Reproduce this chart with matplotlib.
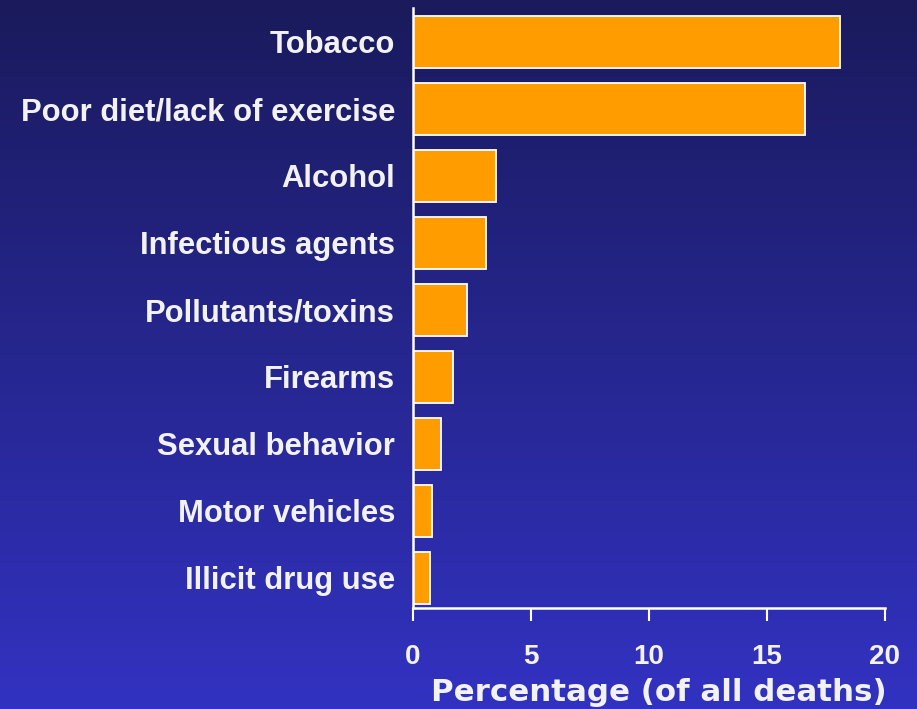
import numpy as np
import matplotlib
matplotlib.use('Agg')
import matplotlib.pyplot as plt

causes = ['Tobacco', 'Poor diet/lack of exercise', 'Alcohol', 'Infectious agents',
          'Pollutants/toxins', 'Firearms', 'Sexual behavior', 'Motor vehicles',
          'Illicit drug use']
percent = [18.1, 16.6, 3.5, 3.1, 2.3, 1.7, 1.2, 0.8, 0.7]
x_ticks = [0, 5, 10, 15, 20]

BAR_COLOR = '#ff9c00'
TEXT_COLOR = '#f2f2f2'

plt.rcParams['font.family'] = ['Liberation Sans', 'DejaVu Sans']

fig = plt.figure(figsize=(9.17, 7.09), dpi=100)

# gradient background, dark navy at top to bright blue at bottom
bg = fig.add_axes([0, 0, 1, 1], zorder=-1)
top = np.array([0x1a, 0x1a, 0x5c]) / 255
bottom = np.array([0x32, 0x32, 0xc2]) / 255
t = np.linspace(0, 1, 256)[:, None]
grad = top[None, :] * (1 - t) + bottom[None, :] * t
bg.imshow(grad[:, None, :], aspect='auto', extent=[0, 1, 0, 1])
bg.axis('off')

ax = fig.add_axes([0.4504, 0.1425, 0.5147, 0.846])
ax.patch.set_alpha(0)

y = np.arange(len(causes))[::-1]
ax.barh(y, percent, height=0.78, color=BAR_COLOR, edgecolor='white', linewidth=1.3)

ax.set_xlim(0, 20)
ax.set_ylim(-0.45, 8.5)
ax.set_yticks(y)
ax.set_yticklabels(causes, fontsize=22.3, fontweight='bold', color=TEXT_COLOR)
ax.tick_params(axis='y', length=0, pad=13)

ax.set_xticks(x_ticks)
ax.set_xticklabels([str(v) for v in x_ticks], fontsize=20, fontweight='bold',
                   color=TEXT_COLOR)
ax.tick_params(axis='x', direction='out', length=9, width=1.5, color='white', pad=17)

for side in ['top', 'right']:
    ax.spines[side].set_visible(False)
for side in ['left', 'bottom']:
    ax.spines[side].set_color('white')
    ax.spines[side].set_linewidth(1.8)

ax.set_xlabel('Percentage (of all deaths)', fontsize=22.2, fontweight='bold',
              color=TEXT_COLOR, family='DejaVu Sans')
ax.xaxis.set_label_coords(0.52, -0.116)

plt.savefig('out.png', dpi=100)
